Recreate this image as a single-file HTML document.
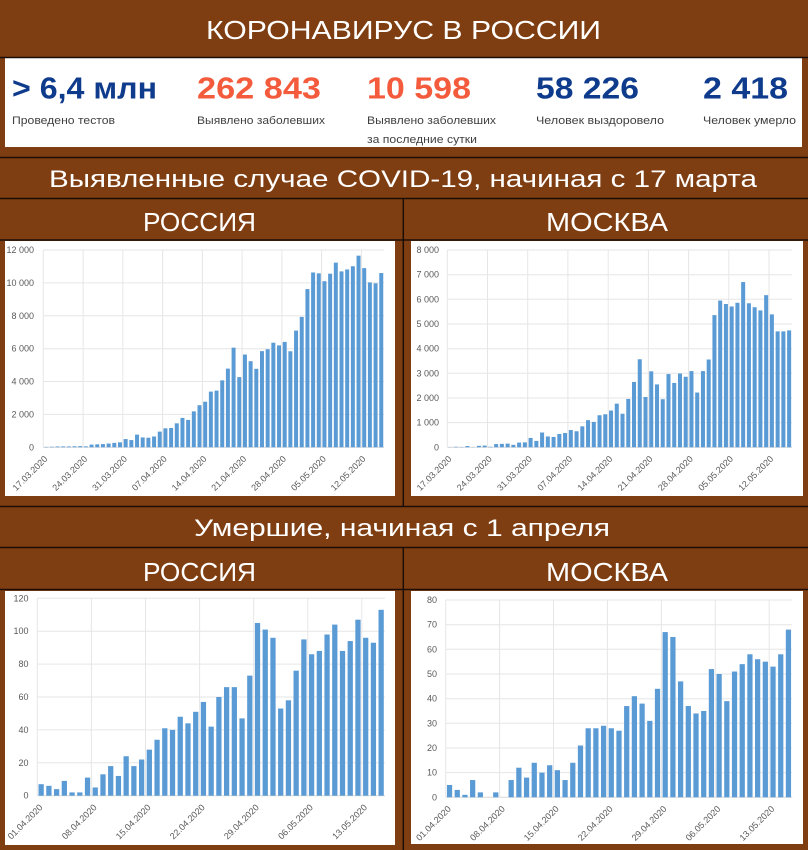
<!DOCTYPE html>
<html><head><meta charset="utf-8"><style>
html,body{margin:0;padding:0;background:#7f3e12;}
svg{display:block;}
.h{font-family:"Liberation Sans","DejaVu Sans",sans-serif;fill:#fff;}
.n{font-family:"Liberation Sans","DejaVu Sans",sans-serif;font-weight:bold;font-size:31px;}
.l{font-family:"Liberation Sans","DejaVu Sans",sans-serif;font-size:11px;fill:#404040;}
.ax{font-family:"Liberation Sans","DejaVu Sans",sans-serif;font-size:9px;fill:#595959;}
.ya{text-anchor:end;}
.xa{text-anchor:end;}
.g line{stroke:#e6e6e6;stroke-width:1;vector-effect:non-scaling-stroke;}
.b rect{fill:#5b9bd5;}
</style></head><body>
<svg width="808" height="850" viewBox="0 0 808 850" xmlns="http://www.w3.org/2000/svg">
<rect x="0" y="0" width="808" height="850" fill="#7f3e12"/>
<!-- title -->
<text class="h" x="206" y="39" font-size="26" textLength="395" lengthAdjust="spacingAndGlyphs">КОРОНАВИРУС В РОССИИ</text>
<!-- stats box -->
<rect x="5" y="58" width="797" height="89" fill="#fff"/>
<text class="n" x="12" y="98.5" fill="#0f3b8d" textLength="145" lengthAdjust="spacingAndGlyphs">&gt; 6,4 млн</text>
<text class="n" x="197" y="98.5" fill="#f35b3c" textLength="124" lengthAdjust="spacingAndGlyphs">262 843</text>
<text class="n" x="367" y="98.5" fill="#f35b3c" textLength="104" lengthAdjust="spacingAndGlyphs">10 598</text>
<text class="n" x="536" y="98.5" fill="#0f3b8d" textLength="103" lengthAdjust="spacingAndGlyphs">58 226</text>
<text class="n" x="703" y="98.5" fill="#0f3b8d" textLength="85" lengthAdjust="spacingAndGlyphs">2 418</text>
<text class="l" x="12" y="124" textLength="103" lengthAdjust="spacingAndGlyphs">Проведено тестов</text>
<text class="l" x="197" y="124" textLength="128" lengthAdjust="spacingAndGlyphs">Выявлено заболевших</text>
<text class="l" x="367" y="124" textLength="129" lengthAdjust="spacingAndGlyphs">Выявлено заболевших</text>
<text class="l" x="367" y="143" textLength="110" lengthAdjust="spacingAndGlyphs">за последние сутки</text>
<text class="l" x="536" y="124" textLength="128" lengthAdjust="spacingAndGlyphs">Человек выздоровело</text>
<text class="l" x="703" y="124" textLength="93" lengthAdjust="spacingAndGlyphs">Человек умерло</text>

<!-- section headings -->
<text class="h" x="49" y="187" font-size="24" textLength="708" lengthAdjust="spacingAndGlyphs">Выявленные случае COVID-19, начиная с 17 марта</text>
<text class="h" x="143" y="231" font-size="26" textLength="113" lengthAdjust="spacingAndGlyphs">РОССИЯ</text>
<text class="h" x="546" y="231" font-size="26" textLength="122" lengthAdjust="spacingAndGlyphs">МОСКВА</text>
<text class="h" x="194" y="536" font-size="24" textLength="416" lengthAdjust="spacingAndGlyphs">Умершие, начиная с 1 апреля</text>
<text class="h" x="143" y="581" font-size="26" textLength="113" lengthAdjust="spacingAndGlyphs">РОССИЯ</text>
<text class="h" x="546" y="581" font-size="26" textLength="122" lengthAdjust="spacingAndGlyphs">МОСКВА</text>

<!-- dark lines -->
<g stroke="#1c0e06" stroke-width="1.5">
<line x1="0" y1="57.5" x2="808" y2="57.5"/>
<line x1="0" y1="157.5" x2="808" y2="157.5"/>
<line x1="0" y1="198.5" x2="808" y2="198.5"/>
<line x1="0" y1="240" x2="808" y2="240"/>
<line x1="0" y1="506.5" x2="808" y2="506.5"/>
<line x1="0" y1="547.5" x2="808" y2="547.5"/>
<line x1="0" y1="589.5" x2="808" y2="589.5"/>
<line x1="403.3" y1="198.5" x2="403.3" y2="506.5"/>
<line x1="403.3" y1="547.5" x2="403.3" y2="850"/>
</g>

<!-- chart panels -->
<rect x="5" y="241" width="390" height="255" fill="#fff"/>
<rect x="411" y="241" width="392" height="255" fill="#fff"/>
<rect x="5" y="591" width="390" height="254" fill="#fff"/>
<rect x="411" y="591" width="392" height="253" fill="#fff"/>

<!-- ===== Chart 1: Russia cases ===== -->
<g class="g">
<line x1="43.3" y1="250" x2="384" y2="250"/>
<line x1="43.3" y1="282.9" x2="384" y2="282.9"/>
<line x1="43.3" y1="315.8" x2="384" y2="315.8"/>
<line x1="43.3" y1="348.7" x2="384" y2="348.7"/>
<line x1="43.3" y1="381.5" x2="384" y2="381.5"/>
<line x1="43.3" y1="414.4" x2="384" y2="414.4"/>
<line x1="43.3" y1="447.3" x2="384" y2="447.3" style="stroke:#d9d9d9"/>
<line x1="43.3" y1="250" x2="43.3" y2="447.3"/>
<line x1="83.1" y1="250" x2="83.1" y2="447.3"/>
<line x1="122.8" y1="250" x2="122.8" y2="447.3"/>
<line x1="162.6" y1="250" x2="162.6" y2="447.3"/>
<line x1="202.4" y1="250" x2="202.4" y2="447.3"/>
<line x1="242.1" y1="250" x2="242.1" y2="447.3"/>
<line x1="281.9" y1="250" x2="281.9" y2="447.3"/>
<line x1="321.6" y1="250" x2="321.6" y2="447.3"/>
<line x1="361.4" y1="250" x2="361.4" y2="447.3"/>
</g>
<g class="b" transform="translate(43.3,447.3) scale(5.68,-0.016442)">
<rect x="0.15" width=".7" height="21"/><rect x="1.15" width=".7" height="33"/><rect x="2.15" width=".7" height="52"/><rect x="3.15" width=".7" height="54"/><rect x="4.15" width=".7" height="53"/><rect x="5.15" width=".7" height="61"/><rect x="6.15" width=".7" height="71"/><rect x="7.15" width=".7" height="57"/><rect x="8.15" width=".7" height="163"/><rect x="9.15" width=".7" height="182"/>
<rect x="10.15" width=".7" height="196"/><rect x="11.15" width=".7" height="228"/><rect x="12.15" width=".7" height="270"/><rect x="13.15" width=".7" height="302"/><rect x="14.15" width=".7" height="501"/><rect x="15.15" width=".7" height="440"/><rect x="16.15" width=".7" height="771"/><rect x="17.15" width=".7" height="601"/><rect x="18.15" width=".7" height="582"/><rect x="19.15" width=".7" height="658"/>
<rect x="20.15" width=".7" height="954"/><rect x="21.15" width=".7" height="1154"/><rect x="22.15" width=".7" height="1175"/><rect x="23.15" width=".7" height="1459"/><rect x="24.15" width=".7" height="1786"/><rect x="25.15" width=".7" height="1667"/><rect x="26.15" width=".7" height="2186"/><rect x="27.15" width=".7" height="2558"/><rect x="28.15" width=".7" height="2774"/><rect x="29.15" width=".7" height="3388"/>
<rect x="30.15" width=".7" height="3448"/><rect x="31.15" width=".7" height="4070"/><rect x="32.15" width=".7" height="4785"/><rect x="33.15" width=".7" height="6060"/><rect x="34.15" width=".7" height="4268"/><rect x="35.15" width=".7" height="5642"/><rect x="36.15" width=".7" height="5236"/><rect x="37.15" width=".7" height="4774"/><rect x="38.15" width=".7" height="5849"/><rect x="39.15" width=".7" height="5966"/>
<rect x="40.15" width=".7" height="6361"/><rect x="41.15" width=".7" height="6198"/><rect x="42.15" width=".7" height="6411"/><rect x="43.15" width=".7" height="5841"/><rect x="44.15" width=".7" height="7099"/><rect x="45.15" width=".7" height="7933"/><rect x="46.15" width=".7" height="9623"/><rect x="47.15" width=".7" height="10633"/><rect x="48.15" width=".7" height="10581"/><rect x="49.15" width=".7" height="10102"/>
<rect x="50.15" width=".7" height="10559"/><rect x="51.15" width=".7" height="11231"/><rect x="52.15" width=".7" height="10699"/><rect x="53.15" width=".7" height="10817"/><rect x="54.15" width=".7" height="11012"/><rect x="55.15" width=".7" height="11656"/><rect x="56.15" width=".7" height="10899"/><rect x="57.15" width=".7" height="10028"/><rect x="58.15" width=".7" height="9974"/><rect x="59.15" width=".7" height="10598"/>
</g>
<g class="ax ya">
<text x="34" y="253">12 000</text>
<text x="34" y="285.9">10 000</text>
<text x="34" y="318.8">8 000</text>
<text x="34" y="351.7">6 000</text>
<text x="34" y="384.5">4 000</text>
<text x="34" y="417.4">2 000</text>
<text x="34" y="450.3">0</text>
</g>
<g class="ax xa">
<text transform="translate(48.1,459.5) rotate(-45)">17.03.2020</text>
<text transform="translate(87.9,459.5) rotate(-45)">24.03.2020</text>
<text transform="translate(127.7,459.5) rotate(-45)">31.03.2020</text>
<text transform="translate(167.4,459.5) rotate(-45)">07.04.2020</text>
<text transform="translate(207.2,459.5) rotate(-45)">14.04.2020</text>
<text transform="translate(246.9,459.5) rotate(-45)">21.04.2020</text>
<text transform="translate(286.7,459.5) rotate(-45)">28.04.2020</text>
<text transform="translate(326.5,459.5) rotate(-45)">05.05.2020</text>
<text transform="translate(366.2,459.5) rotate(-45)">12.05.2020</text>
</g>

<!-- ===== Chart 2: Moscow cases ===== -->
<g class="g">
<line x1="447.3" y1="250" x2="792" y2="250"/>
<line x1="447.3" y1="274.7" x2="792" y2="274.7"/>
<line x1="447.3" y1="299.3" x2="792" y2="299.3"/>
<line x1="447.3" y1="324" x2="792" y2="324"/>
<line x1="447.3" y1="348.7" x2="792" y2="348.7"/>
<line x1="447.3" y1="373.3" x2="792" y2="373.3"/>
<line x1="447.3" y1="398" x2="792" y2="398"/>
<line x1="447.3" y1="422.6" x2="792" y2="422.6"/>
<line x1="447.3" y1="447.3" x2="792" y2="447.3" style="stroke:#d9d9d9"/>
<line x1="447.3" y1="250" x2="447.3" y2="447.3"/>
<line x1="487.5" y1="250" x2="487.5" y2="447.3"/>
<line x1="527.7" y1="250" x2="527.7" y2="447.3"/>
<line x1="567.9" y1="250" x2="567.9" y2="447.3"/>
<line x1="608.2" y1="250" x2="608.2" y2="447.3"/>
<line x1="648.4" y1="250" x2="648.4" y2="447.3"/>
<line x1="688.6" y1="250" x2="688.6" y2="447.3"/>
<line x1="728.8" y1="250" x2="728.8" y2="447.3"/>
<line x1="769" y1="250" x2="769" y2="447.3"/>
</g>
<g class="b" transform="translate(447.3,447.3) scale(5.745,-0.024663)">
<rect x="0.15" width=".7" height="5"/><rect x="1.15" width=".7" height="20"/><rect x="2.15" width=".7" height="10"/><rect x="3.15" width=".7" height="50"/><rect x="4.15" width=".7" height="5"/><rect x="5.15" width=".7" height="60"/><rect x="6.15" width=".7" height="70"/><rect x="7.15" width=".7" height="20"/><rect x="8.15" width=".7" height="130"/><rect x="9.15" width=".7" height="140"/>
<rect x="10.15" width=".7" height="150"/><rect x="11.15" width=".7" height="100"/><rect x="12.15" width=".7" height="190"/><rect x="13.15" width=".7" height="200"/><rect x="14.15" width=".7" height="380"/><rect x="15.15" width=".7" height="260"/><rect x="16.15" width=".7" height="600"/><rect x="17.15" width=".7" height="440"/><rect x="18.15" width=".7" height="420"/><rect x="19.15" width=".7" height="540"/>
<rect x="20.15" width=".7" height="580"/><rect x="21.15" width=".7" height="700"/><rect x="22.15" width=".7" height="650"/><rect x="23.15" width=".7" height="850"/><rect x="24.15" width=".7" height="1100"/><rect x="25.15" width=".7" height="1030"/><rect x="26.15" width=".7" height="1300"/><rect x="27.15" width=".7" height="1340"/><rect x="28.15" width=".7" height="1490"/><rect x="29.15" width=".7" height="1770"/>
<rect x="30.15" width=".7" height="1360"/><rect x="31.15" width=".7" height="1960"/><rect x="32.15" width=".7" height="2650"/><rect x="33.15" width=".7" height="3570"/><rect x="34.15" width=".7" height="2040"/><rect x="35.15" width=".7" height="3080"/><rect x="36.15" width=".7" height="2550"/><rect x="37.15" width=".7" height="1950"/><rect x="38.15" width=".7" height="2970"/><rect x="39.15" width=".7" height="2610"/>
<rect x="40.15" width=".7" height="2990"/><rect x="41.15" width=".7" height="2860"/><rect x="42.15" width=".7" height="3090"/><rect x="43.15" width=".7" height="2220"/><rect x="44.15" width=".7" height="3090"/><rect x="45.15" width=".7" height="3560"/><rect x="46.15" width=".7" height="5360"/><rect x="47.15" width=".7" height="5950"/><rect x="48.15" width=".7" height="5810"/><rect x="49.15" width=".7" height="5710"/>
<rect x="50.15" width=".7" height="5860"/><rect x="51.15" width=".7" height="6700"/><rect x="52.15" width=".7" height="5840"/><rect x="53.15" width=".7" height="5680"/><rect x="54.15" width=".7" height="5550"/><rect x="55.15" width=".7" height="6170"/><rect x="56.15" width=".7" height="5390"/><rect x="57.15" width=".7" height="4700"/><rect x="58.15" width=".7" height="4700"/><rect x="59.15" width=".7" height="4740"/>
</g>
<g class="ax ya">
<text x="439" y="253">8 000</text>
<text x="439" y="277.7">7 000</text>
<text x="439" y="302.3">6 000</text>
<text x="439" y="327">5 000</text>
<text x="439" y="351.7">4 000</text>
<text x="439" y="376.3">3 000</text>
<text x="439" y="401">2 000</text>
<text x="439" y="425.6">1 000</text>
<text x="439" y="450.3">0</text>
</g>
<g class="ax xa">
<text transform="translate(452.2,459.5) rotate(-45)">17.03.2020</text>
<text transform="translate(492.4,459.5) rotate(-45)">24.03.2020</text>
<text transform="translate(532.6,459.5) rotate(-45)">31.03.2020</text>
<text transform="translate(572.8,459.5) rotate(-45)">07.04.2020</text>
<text transform="translate(613,459.5) rotate(-45)">14.04.2020</text>
<text transform="translate(653.2,459.5) rotate(-45)">21.04.2020</text>
<text transform="translate(693.5,459.5) rotate(-45)">28.04.2020</text>
<text transform="translate(733.7,459.5) rotate(-45)">05.05.2020</text>
<text transform="translate(773.9,459.5) rotate(-45)">12.05.2020</text>
</g>

<!-- ===== Chart 3: Russia deaths ===== -->
<g class="g">
<line x1="37.3" y1="598.3" x2="385" y2="598.3"/>
<line x1="37.3" y1="631.2" x2="385" y2="631.2"/>
<line x1="37.3" y1="664.1" x2="385" y2="664.1"/>
<line x1="37.3" y1="697" x2="385" y2="697"/>
<line x1="37.3" y1="729.9" x2="385" y2="729.9"/>
<line x1="37.3" y1="762.8" x2="385" y2="762.8"/>
<line x1="37.3" y1="795.7" x2="385" y2="795.7" style="stroke:#d9d9d9"/>
<line x1="37.3" y1="598.3" x2="37.3" y2="795.7"/>
<line x1="91.4" y1="598.3" x2="91.4" y2="795.7"/>
<line x1="145.5" y1="598.3" x2="145.5" y2="795.7"/>
<line x1="199.6" y1="598.3" x2="199.6" y2="795.7"/>
<line x1="253.7" y1="598.3" x2="253.7" y2="795.7"/>
<line x1="307.8" y1="598.3" x2="307.8" y2="795.7"/>
<line x1="361.8" y1="598.3" x2="361.8" y2="795.7"/>
</g>
<g class="b" transform="translate(37.3,795.7) scale(7.727,-1.645)">
<rect x="0.16" width=".68" height="7"/><rect x="1.16" width=".68" height="6"/><rect x="2.16" width=".68" height="4"/><rect x="3.16" width=".68" height="9"/><rect x="4.16" width=".68" height="2"/><rect x="5.16" width=".68" height="2"/><rect x="6.16" width=".68" height="11"/><rect x="7.16" width=".68" height="5"/><rect x="8.16" width=".68" height="13"/><rect x="9.16" width=".68" height="18"/>
<rect x="10.16" width=".68" height="12"/><rect x="11.16" width=".68" height="24"/><rect x="12.16" width=".68" height="18"/><rect x="13.16" width=".68" height="22"/><rect x="14.16" width=".68" height="28"/><rect x="15.16" width=".68" height="34"/><rect x="16.16" width=".68" height="41"/><rect x="17.16" width=".68" height="40"/><rect x="18.16" width=".68" height="48"/><rect x="19.16" width=".68" height="44"/>
<rect x="20.16" width=".68" height="51"/><rect x="21.16" width=".68" height="57"/><rect x="22.16" width=".68" height="42"/><rect x="23.16" width=".68" height="60"/><rect x="24.16" width=".68" height="66"/><rect x="25.16" width=".68" height="66"/><rect x="26.16" width=".68" height="47"/><rect x="27.16" width=".68" height="73"/><rect x="28.16" width=".68" height="105"/><rect x="29.16" width=".68" height="101"/>
<rect x="30.16" width=".68" height="96"/><rect x="31.16" width=".68" height="53"/><rect x="32.16" width=".68" height="58"/><rect x="33.16" width=".68" height="76"/><rect x="34.16" width=".68" height="95"/><rect x="35.16" width=".68" height="86"/><rect x="36.16" width=".68" height="88"/><rect x="37.16" width=".68" height="98"/><rect x="38.16" width=".68" height="104"/><rect x="39.16" width=".68" height="88"/>
<rect x="40.16" width=".68" height="94"/><rect x="41.16" width=".68" height="107"/><rect x="42.16" width=".68" height="96"/><rect x="43.16" width=".68" height="93"/><rect x="44.16" width=".68" height="113"/>
</g>
<g class="ax ya">
<text x="28.5" y="601.3">120</text>
<text x="28.5" y="634.2">100</text>
<text x="28.5" y="667.1">80</text>
<text x="28.5" y="700">60</text>
<text x="28.5" y="732.9">40</text>
<text x="28.5" y="765.8">20</text>
<text x="28.5" y="798.7">0</text>
</g>
<g class="ax xa">
<text transform="translate(43.2,808) rotate(-45)">01.04.2020</text>
<text transform="translate(97.3,808) rotate(-45)">08.04.2020</text>
<text transform="translate(151.3,808) rotate(-45)">15.04.2020</text>
<text transform="translate(205.4,808) rotate(-45)">22.04.2020</text>
<text transform="translate(259.5,808) rotate(-45)">29.04.2020</text>
<text transform="translate(313.6,808) rotate(-45)">06.05.2020</text>
<text transform="translate(367.7,808) rotate(-45)">13.05.2020</text>
</g>

<!-- ===== Chart 4: Moscow deaths ===== -->
<g class="g">
<line x1="445.7" y1="600" x2="792.3" y2="600"/>
<line x1="445.7" y1="624.7" x2="792.3" y2="624.7"/>
<line x1="445.7" y1="649.3" x2="792.3" y2="649.3"/>
<line x1="445.7" y1="674" x2="792.3" y2="674"/>
<line x1="445.7" y1="698.7" x2="792.3" y2="698.7"/>
<line x1="445.7" y1="723.3" x2="792.3" y2="723.3"/>
<line x1="445.7" y1="748" x2="792.3" y2="748"/>
<line x1="445.7" y1="772.6" x2="792.3" y2="772.6"/>
<line x1="445.7" y1="797.3" x2="792.3" y2="797.3" style="stroke:#d9d9d9"/>
<line x1="445.7" y1="600" x2="445.7" y2="797.3"/>
<line x1="499.6" y1="600" x2="499.6" y2="797.3"/>
<line x1="553.5" y1="600" x2="553.5" y2="797.3"/>
<line x1="607.4" y1="600" x2="607.4" y2="797.3"/>
<line x1="661.4" y1="600" x2="661.4" y2="797.3"/>
<line x1="715.3" y1="600" x2="715.3" y2="797.3"/>
<line x1="769.2" y1="600" x2="769.2" y2="797.3"/>
</g>
<g class="b" transform="translate(445.7,797.3) scale(7.702,-2.466)">
<rect x="0.16" width=".68" height="5"/><rect x="1.16" width=".68" height="3"/><rect x="2.16" width=".68" height="1"/><rect x="3.16" width=".68" height="7"/><rect x="4.16" width=".68" height="2"/><rect x="5.16" width=".68" height="0"/><rect x="6.16" width=".68" height="2"/><rect x="7.16" width=".68" height="0"/><rect x="8.16" width=".68" height="7"/><rect x="9.16" width=".68" height="12"/>
<rect x="10.16" width=".68" height="8"/><rect x="11.16" width=".68" height="14"/><rect x="12.16" width=".68" height="10"/><rect x="13.16" width=".68" height="13"/><rect x="14.16" width=".68" height="11"/><rect x="15.16" width=".68" height="7"/><rect x="16.16" width=".68" height="14"/><rect x="17.16" width=".68" height="21"/><rect x="18.16" width=".68" height="28"/><rect x="19.16" width=".68" height="28"/>
<rect x="20.16" width=".68" height="29"/><rect x="21.16" width=".68" height="28"/><rect x="22.16" width=".68" height="27"/><rect x="23.16" width=".68" height="37"/><rect x="24.16" width=".68" height="41"/><rect x="25.16" width=".68" height="38"/><rect x="26.16" width=".68" height="31"/><rect x="27.16" width=".68" height="44"/><rect x="28.16" width=".68" height="67"/><rect x="29.16" width=".68" height="65"/>
<rect x="30.16" width=".68" height="47"/><rect x="31.16" width=".68" height="37"/><rect x="32.16" width=".68" height="34"/><rect x="33.16" width=".68" height="35"/><rect x="34.16" width=".68" height="52"/><rect x="35.16" width=".68" height="50"/><rect x="36.16" width=".68" height="39"/><rect x="37.16" width=".68" height="51"/><rect x="38.16" width=".68" height="54"/><rect x="39.16" width=".68" height="58"/>
<rect x="40.16" width=".68" height="56"/><rect x="41.16" width=".68" height="55"/><rect x="42.16" width=".68" height="53"/><rect x="43.16" width=".68" height="58"/><rect x="44.16" width=".68" height="68"/>
</g>
<g class="ax ya">
<text x="437" y="603">80</text>
<text x="437" y="627.7">70</text>
<text x="437" y="652.3">60</text>
<text x="437" y="677">50</text>
<text x="437" y="701.7">40</text>
<text x="437" y="726.3">30</text>
<text x="437" y="751">20</text>
<text x="437" y="775.6">10</text>
<text x="437" y="800.3">0</text>
</g>
<g class="ax xa">
<text transform="translate(451.6,809.5) rotate(-45)">01.04.2020</text>
<text transform="translate(505.5,809.5) rotate(-45)">08.04.2020</text>
<text transform="translate(559.4,809.5) rotate(-45)">15.04.2020</text>
<text transform="translate(613.3,809.5) rotate(-45)">22.04.2020</text>
<text transform="translate(667.2,809.5) rotate(-45)">29.04.2020</text>
<text transform="translate(721.1,809.5) rotate(-45)">06.05.2020</text>
<text transform="translate(775,809.5) rotate(-45)">13.05.2020</text>
</g>
</svg>
</body></html>
